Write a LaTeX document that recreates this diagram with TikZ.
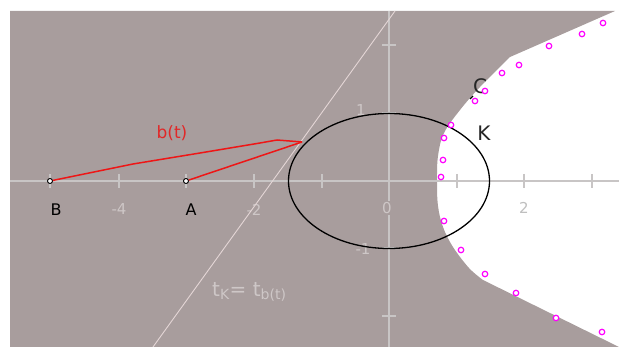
\documentclass[tikz,border=0pt]{standalone}
\usepackage{fontspec}
\setmainfont{DejaVu Sans}
\usetikzlibrary{shapes.geometric}
\definecolor{bg}{RGB}{168,157,157}
\definecolor{axisc}{RGB}{200,197,197}
\definecolor{lbl}{RGB}{206,199,199}
\definecolor{tline}{RGB}{228,214,214}
\definecolor{bred}{RGB}{238,22,22}
\definecolor{tred}{RGB}{225,40,40}
\definecolor{mag}{RGB}{255,0,255}
\tikzset{
  axisline/.style={axisc, line width=1.1pt},
  ticklbl/.style={text=lbl, font=\fontsize{15}{15}\selectfont, fill=bg, inner sep=1pt},
  ptdot/.style={circle, draw=black, fill=white, line width=0.9pt, minimum size=5pt, inner sep=0pt},
  magdot/.style={circle, draw=mag, fill=white, line width=1.2pt, minimum size=5.5pt, inner sep=0pt},
  ptlbl/.style={text=black, font=\fontsize{16}{16}\selectfont, inner sep=0pt},
  bigblbl/.style={text=black!85, font=\fontsize{20}{20}\selectfont, inner sep=0pt},
  redline/.style={bred, line width=1.5pt, line join=round},
}
\begin{document}
\begin{tikzpicture}[x=1pt,y=-1pt]
\useasboundingbox (0,0) rectangle (619,347);
% shaded region
\fill[bg] (10,11) -- (615,11) -- (510,57) -- plot[smooth, tension=0.6] coordinates {(510,57) (480,87) (460,110) (444,133) (438,156) (437,181) (438,206) (443,227) (453,247) (469,268) (483,280)} -- (619,347) -- (10,347) -- cycle;
% axes
\draw[axisline] (10,181) -- (619,181);
\draw[axisline] (389,11) -- (389,347);
\foreach \x in {50,119,186,254,322,457,524,592} \draw[axisline] (\x,174) -- (\x,188);
\foreach \y in {45,113,248,316} \draw[axisline] (382,\y) -- (396,\y);
% tick labels
\node[ticklbl] (lm4) at (119,209) {-4};
\node[ticklbl] (lm2) at (254,210) {-2};
\node[ticklbl] (l0) at (387,208) {0};
\node[ticklbl, fill=white, text=black!25] (l2) at (524,208) {2};
\node[ticklbl] (l1) at (361,110) {1};
\node[ticklbl, fill=none] (lm1) at (363,249) {-1};
% tangent line
\coordinate (T1) at (153,347);
\coordinate (T2) at (395,11);
\draw[tline, line width=0.9pt] (T1) -- (T2);
\node[text=lbl, font=\fontsize{20}{20}\selectfont, inner sep=0pt, anchor=west] (tk) at (212,292) {t\textsubscript{K}= t\textsubscript{b(t)}};
% ellipse K
\node[draw=black, line width=1.3pt, ellipse, minimum width=201pt, minimum height=135pt, inner sep=0pt] (K) at (389,181) {};
% points
\coordinate (P) at (302,142);
\coordinate (Q) at (277,140);
\node[ptdot] (B) at (50,181) {};
\node[ptdot] (A) at (186,181) {};
\draw[redline] (B) -- (133,164) -- (200,153) -- (260,143) -- (Q) -- (P);
\draw[redline] (A) -- (P);
\node[ptlbl] (Bl) at (56,210) {B};
\node[ptlbl] (Al) at (191,210) {A};
\node[text=tred, font=\fontsize{17}{17}\selectfont, inner sep=0pt] (bt) at (172,133) {b(t)};
\node[bigblbl] (Cl) at (480,86) {C};
\node[bigblbl] (Kl) at (484,133) {K};
\draw[black, line width=1.1pt] (470,99) -- (473,96);
% magenta points
\foreach \p [count=\i] in {(603,23),(582,34),(549,46),(519,65),(502,73),(485,91),(475,101),(451,125),(444,138),(443,160),(441,177),(444,221),(461,250),(485,274),(516,293),(556,318),(602,332)}
  \node[magdot] (m\i) at \p {};
\end{tikzpicture}
\end{document}
